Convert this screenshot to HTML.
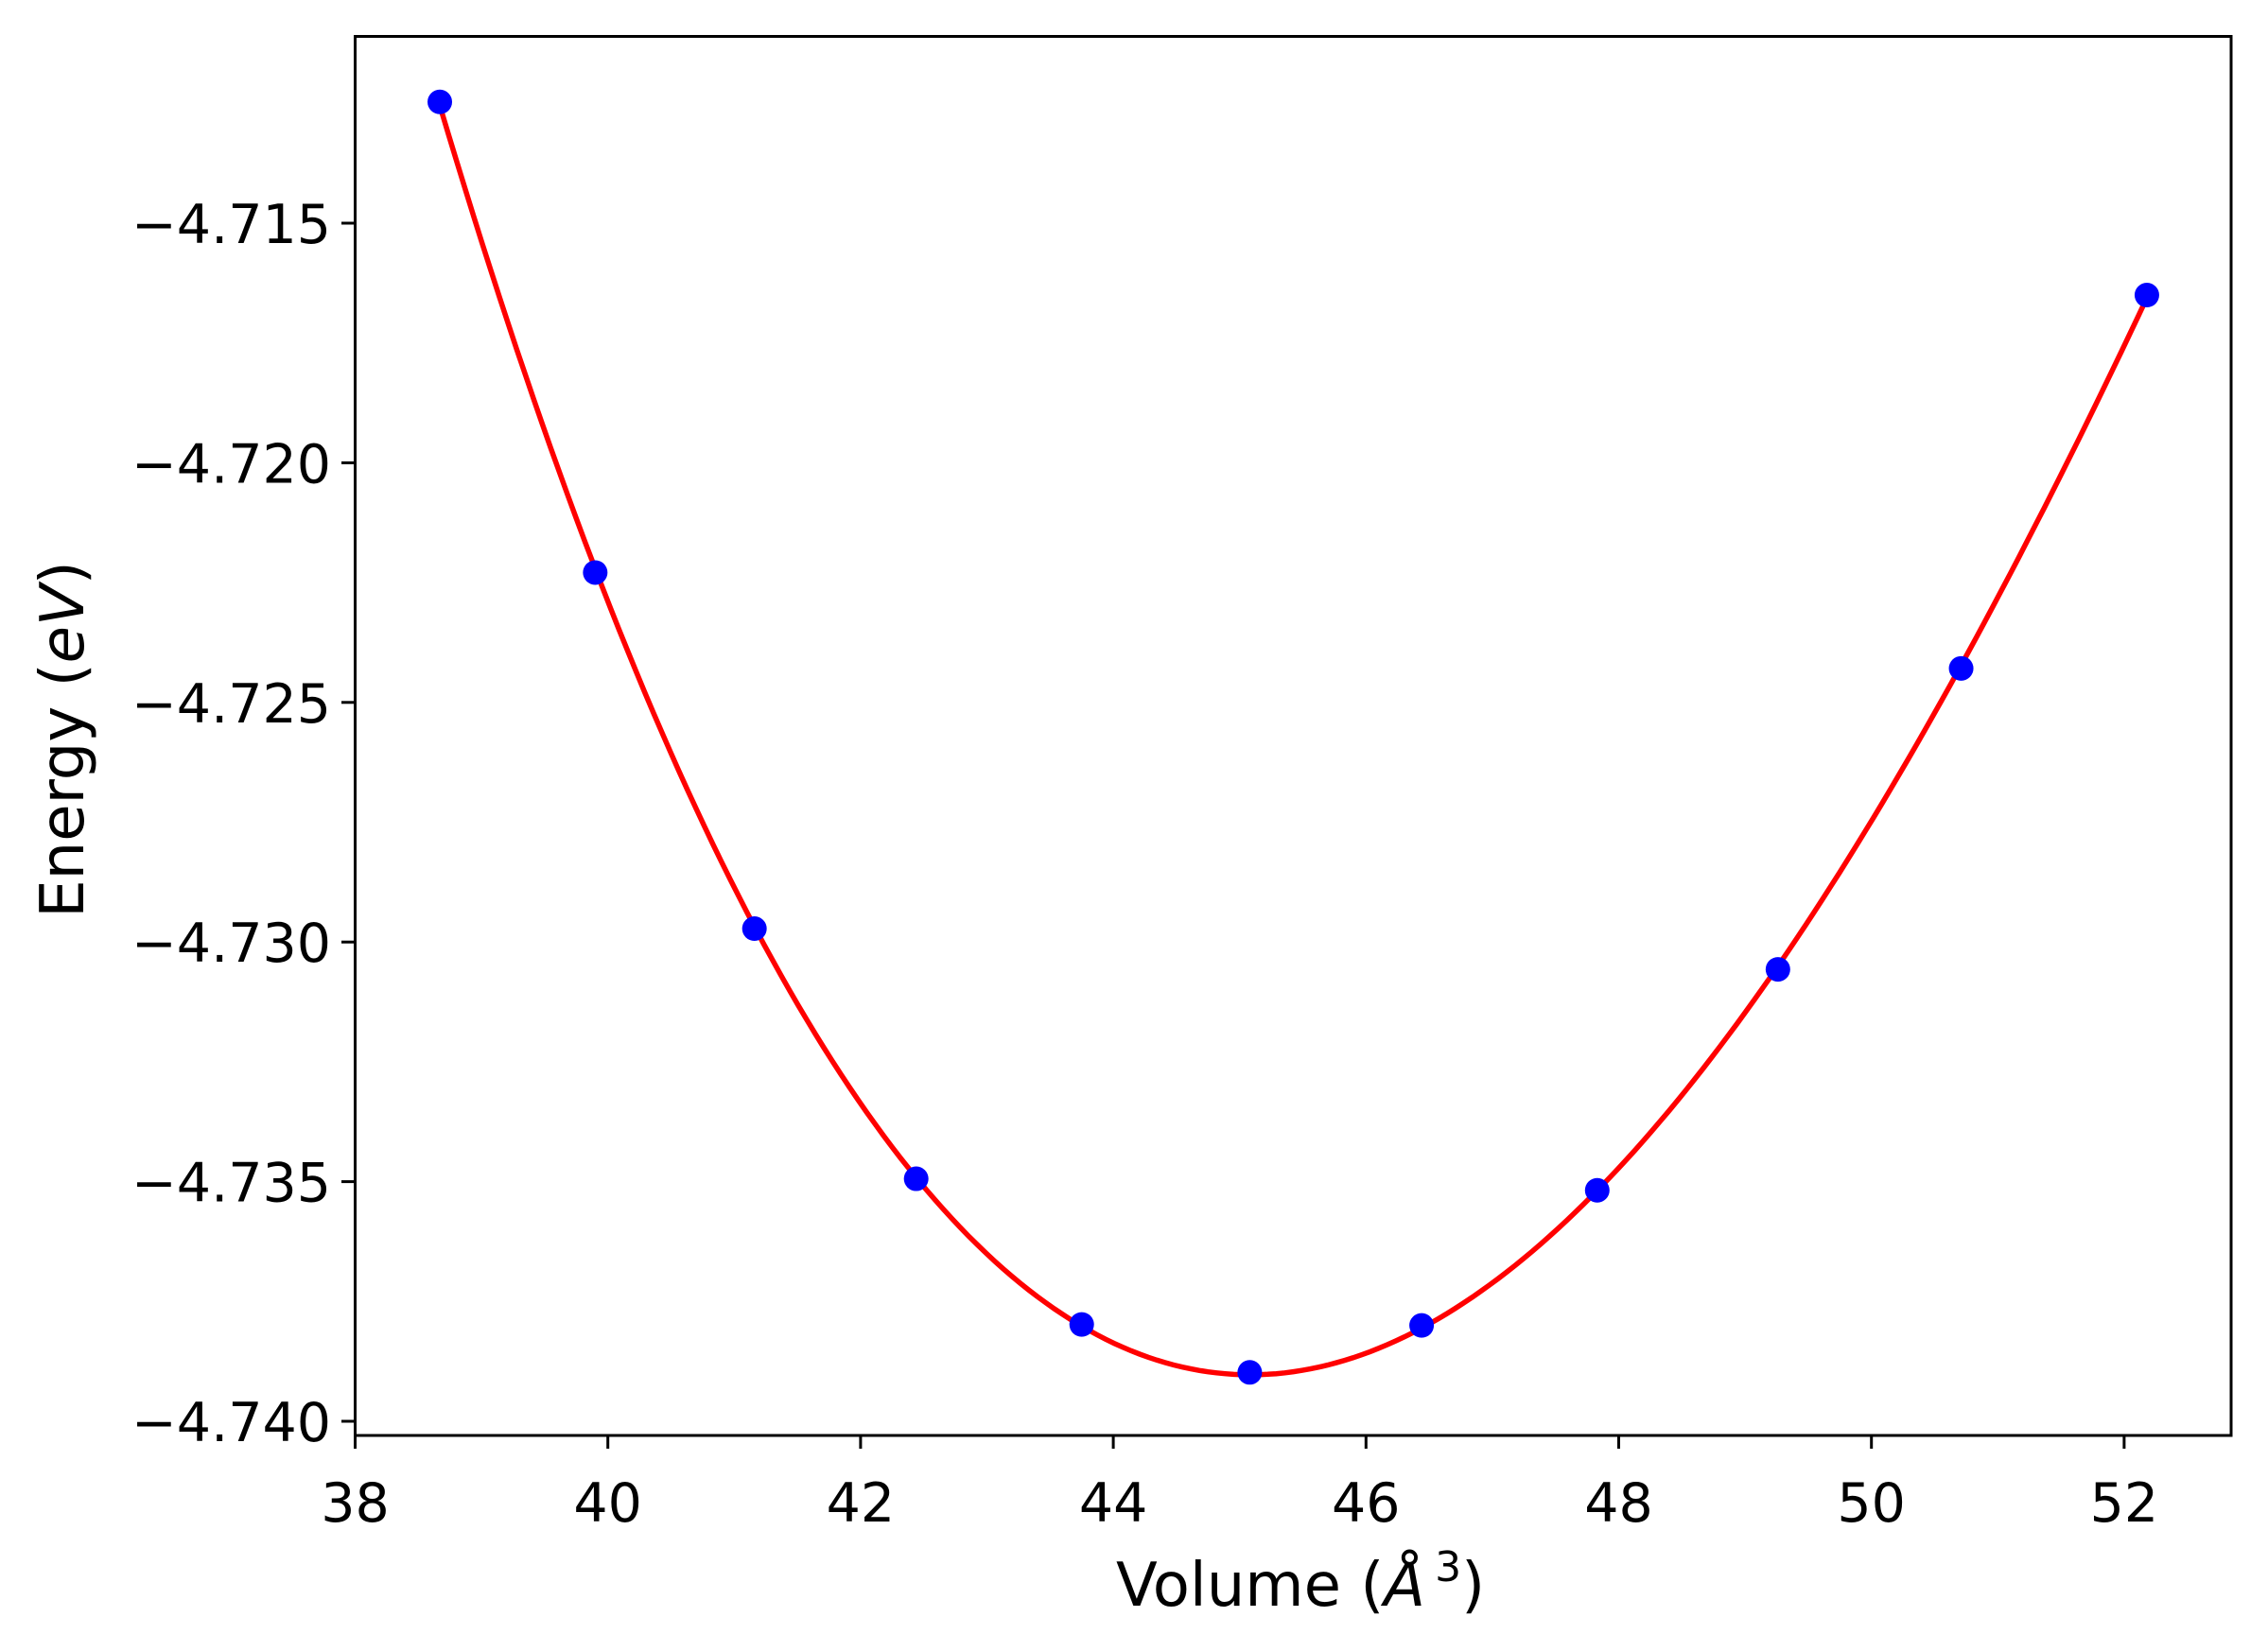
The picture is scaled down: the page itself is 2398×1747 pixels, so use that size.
<!DOCTYPE html>
<html><head><meta charset="utf-8"><style>
body{margin:0;background:#fff}
svg{display:block;font-family:"DejaVu Sans","Liberation Sans",sans-serif}
</style></head><body>
<svg id="chart" width="2398" height="1747" viewBox="0 0 2398 1747">
<rect width="2398" height="1747" fill="#fff"/>
<g id="curve"></g>
<g id="points"></g>
<rect x="375.5" y="38.5" width="1983.5" height="1479.5" fill="none" stroke="#000" stroke-width="3"/>
<g id="xticks"></g>
<g id="yticks"></g>
<text x="1375" y="1698" font-size="64" text-anchor="middle">Volume (<tspan font-style="italic">Å</tspan><tspan font-size="44" dx="10" dy="-26">3</tspan><tspan dy="26">)</tspan></text>
<text transform="translate(88,782) rotate(-90)" font-size="64" text-anchor="middle">Energy (<tspan font-style="italic">eV</tspan>)</text>
</svg>
<script>
const volumes=[38.67,39.90,41.16,42.44,43.75,45.08,46.44,47.83,49.26,50.71,52.18];
const energies=[-4.71247,-4.72229,-4.72972,-4.73494,-4.73798,-4.73898,-4.73800,-4.73518,-4.73057,-4.72429,-4.7165];
const xTickLabels=["38","40","42","44","46","48","50","52"];
const yTickLabels=["−4.715","−4.720","−4.725","−4.730","−4.735","−4.740"];
const yTickValues=[-4.715,-4.720,-4.725,-4.730,-4.735,-4.740];
const NS="http://www.w3.org/2000/svg";
const xs=v=>375.5+(v-38)*133.6;
const ys=e=>1503-(e+4.740)/0.005*253.4;
function mk(t,a,p){const el=document.createElementNS(NS,t);for(const k in a)el.setAttribute(k,a[k]);p.appendChild(el);return el;}
const c0=45;
function fit(){const n=4;const A=[...Array(n)].map(()=>Array(n+1).fill(0));
for(let i=0;i<volumes.length;i++){const x=volumes[i]-c0;const p=[1,x,x*x,x*x*x];
for(let r=0;r<n;r++){for(let c=0;c<n;c++)A[r][c]+=p[r]*p[c];A[r][n]+=p[r]*energies[i];}}
for(let i=0;i<n;i++){let m=i;for(let r=i+1;r<n;r++)if(Math.abs(A[r][i])>Math.abs(A[m][i]))m=r;[A[i],A[m]]=[A[m],A[i]];
for(let r=0;r<n;r++)if(r!==i){const f=A[r][i]/A[i][i];for(let c=i;c<=n;c++)A[r][c]-=f*A[i][c];}}
return A.map((r,i)=>r[n]/r[i]);}
const co=fit();
const f=v=>{const x=v-c0;return co[0]+co[1]*x+co[2]*x*x+co[3]*x*x*x;};
let d="";const v0=volumes[0],v1=volumes[volumes.length-1];
for(let i=0;i<=200;i++){const v=v0+(v1-v0)*i/200;d+=(i?"L":"M")+xs(v).toFixed(1)+","+ys(f(v)).toFixed(1);}
const line=mk("path",{d:d,fill:"none",stroke:"#ff0000","stroke-width":5.5},document.getElementById("curve"));


const pg=document.getElementById("points");
volumes.forEach((v,i)=>{const c=mk("circle",{cx:xs(v),cy:ys(energies[i]),r:13,fill:"#0000ff"},pg);

});
const xg=document.getElementById("xticks");
xTickLabels.forEach(l=>{const x=xs(+l);
const t=mk("line",{x1:x,x2:x,y1:1518,y2:1532,stroke:"#000","stroke-width":3},xg);


const tx=mk("text",{x:x,y:1609,"font-size":57,"text-anchor":"middle"},xg);tx.textContent=l;

});
const yg=document.getElementById("yticks");
yTickValues.forEach((v,i)=>{const y=ys(v);
const t=mk("line",{x1:361,x2:375.5,y1:y,y2:y,stroke:"#000","stroke-width":3},yg);


const tx=mk("text",{x:350,y:y+21,"font-size":57,"text-anchor":"end"},yg);tx.textContent=yTickLabels[i];

});
</script>
</body></html>
